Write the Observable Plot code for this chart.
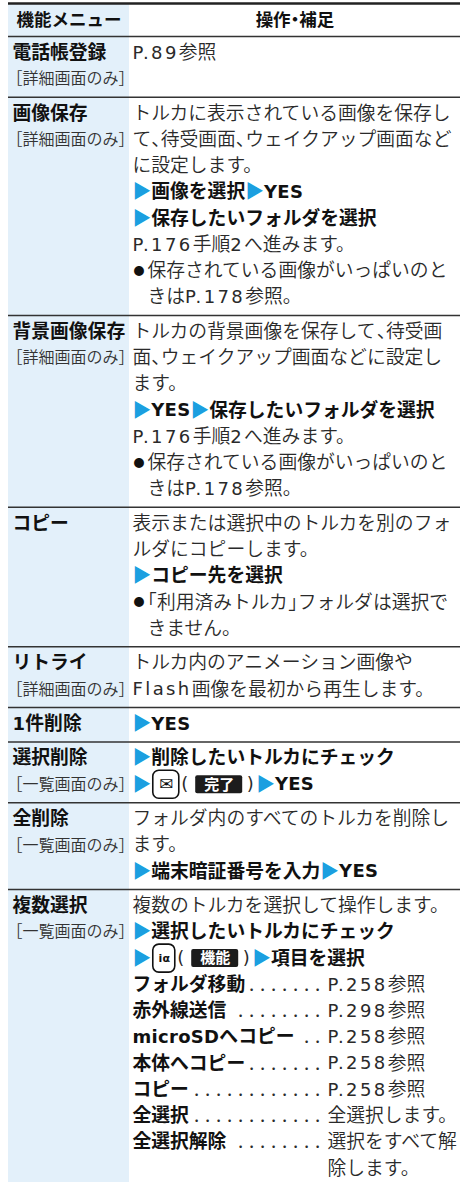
<!DOCTYPE html>
<html><head><meta charset="utf-8">
<script src="https://cdn.jsdelivr.net/npm/d3@7"></script>
<script src="https://cdn.jsdelivr.net/npm/@observablehq/plot@0.6"></script>
<style>html,body{margin:0;padding:0;background:#fff;} svg{display:block}</style>
</head><body><div id="chart"></div>
<script>
// ---------- data ----------
const headerLabels = ["機能メニュー", "操作・補足"];
const menuNames = ["電話帳登録", "画像保存", "背景画像保存", "コピー", "リトライ", "1件削除", "選択削除", "全削除", "複数選択"];
const menuNotes = ["［詳細画面のみ］", "［詳細画面のみ］", "［詳細画面のみ］", "", "［詳細画面のみ］", "", "［一覧画面のみ］", "［一覧画面のみ］", "［一覧画面のみ］"];
const rowLines = [
  ["P.89参照"],
  ["トルカに表示されている画像を保存し", "て、待受画面、ウェイクアップ画面など", "に設定します。", "▶**画像を選択**▶**YES**", "▶**保存したいフォルダを選択**", "P.176手順2へ進みます。", "●保存されている画像がいっぱいのと", "^きはP.178参照。"],
  ["トルカの背景画像を保存して、待受画", "面、ウェイクアップ画面などに設定し", "ます。", "▶**YES**▶**保存したいフォルダを選択**", "P.176手順2へ進みます。", "●保存されている画像がいっぱいのと", "^きはP.178参照。"],
  ["表示または選択中のトルカを別のフォ", "ルダにコピーします。", "▶**コピー先を選択**", "●「利用済みトルカ」フォルダは選択で", "^きません。"],
  ["トルカ内のアニメーション画像や", "Flash画像を最初から再生します。"],
  ["▶**YES**"],
  ["▶**削除したいトルカにチェック**", "▶{mail}(#完了#)▶**YES**"],
  ["フォルダ内のすべてのトルカを削除し", "ます。", "▶**端末暗証番号を入力**▶**YES**"],
  ["複数のトルカを選択して操作します。", "▶**選択したいトルカにチェック**", "▶{ia}(#機能#)▶**項目を選択**"]
];
const subItems = ["フォルダ移動", "赤外線送信", "microSDへコピー", "本体へコピー", "コピー", "全選択", "全選択解除"];
const subRefs = ["P.258参照", "P.298参照", "P.258参照", "P.258参照", "P.258参照", "全選択します。", "選択をすべて解"];
const subRefTail = "除します。";

// ---------- layout settings ----------
const W = 460, H = 1182;
const X0 = 8, XS = 129, X1 = 460;
const TOP = 3, HEAD_B = 36, HEAD_Y = 20;
const LH = 26.25, PAD = 8.2, FIRST = 16.5;
const FS = 18.8, LAT_FS = 18, NOTE_FS = 16, HEAD_FS = 17.5, BOX_FS = 15, BULLET_FS = 11, BULLET_W = 15;
const LS_REG = 2.4, LS_BOLD = 0.3;
const TX_L = 12, TX_NOTE = 6, TX_R = 132, REF_X = 327, DOT_END = 317, DOT_STEP = 11;
const FONT = '"Noto Sans CJK JP","Noto Sans CJK SC",sans-serif';
const FONT_H = '"Noto Sans CJK JP",sans-serif'; // same face, rendered with half-width punctuation
const LATIN = '"DejaVu Sans",Verdana,sans-serif';
const BLUE_BG = "#E3F0FA", TRI = "#1B9FE0", INK = "#111", REG = "#2a2a2a";
const REG_W = 350;

const ctx = document.createElement("canvas").getContext("2d");
const tw = (t, size, weight = 400, fam = FONT) => { ctx.font = `${weight} ${size}px ${fam}`; return ctx.measureText(t).width; };

// all right-column lines per row
const allLines = rowLines.map(l => l.slice());
subItems.forEach((it, k) => allLines[8].push({item: it, ref: subRefs[k]}));
allLines[8].push({item: "", ref: subRefTail, noDots: true});

const texts = [], keys = [], boxes = [], dots = [];

// place a run of text (mixed CJK / Latin / half-width punctuation)
function pushRun(str, x, y, weight) {
  const bold = weight === 700;
  const runs = str.match(/[\x20-\x7E]+|[、「」]|[^\x20-\x7E、「」]+/g) || [];
  for (const r of runs) {
    if (/^[\x20-\x7E]+$/.test(r)) {
      texts.push({t: r, x, y, s: bold ? "boldL" : "regL"});
      x += tw(r, LAT_FS, bold ? 700 : 400, LATIN) + r.length * (bold ? LS_BOLD : LS_REG);
    } else if (/^[、「」]$/.test(r)) {
      texts.push({t: r, x, y, s: bold ? "boldP" : "regP"}); x += FS * 0.5;
    } else {
      texts.push({t: r, x, y, s: bold ? "bold" : "reg"}); x += tw(r, FS, bold ? 700 : REG_W);
    }
  }
  return x;
}

function layoutLine(str, x, y) {
  const parts = str.split(/(\*\*[^*]+\*\*|▶|●|\^|\{mail\}|\{ia\}|#[^#]+#)/).filter(s => s !== "");
  for (const p of parts) {
    if (p === "▶") { texts.push({t: "▶", x, y, s: "tri"}); x += tw("▶", FS); }
    else if (p === "●") { texts.push({t: "●", x: x + 1, y, s: "bullet"}); x += BULLET_W; }
    else if (p === "^") { x += BULLET_W; }
    else if (p.startsWith("**")) { x = pushRun(p.slice(2, -2), x, y, 700); }
    else if (p === "{mail}" || p === "{ia}") {
      const w = p === "{mail}" ? 26 : 22; x += 2;
      keys.push({x1: x, x2: x + w, y1: y - 14, y2: y + 14, g: p === "{mail}" ? "✉" : "iα", cx: x + w / 2, y, mail: p === "{mail}"});
      x += w + 2;
    }
    else if (p.startsWith("#")) {
      const t = p.slice(1, -1); x += 5;
      const w = tw(t, BOX_FS, 700) + 17;
      boxes.push({x1: x, x2: x + w, y1: y - 9, y2: y + 9, t, cx: x + w / 2, y});
      x += w + 4;
    }
    else { x = pushRun(p, x, y, 400); }
  }
  return x;
}

const rowTops = [];
let yy = HEAD_B;
menuNames.forEach((name, i) => {
  rowTops.push(yy);
  const c = yy + FIRST;
  pushRun(name, TX_L, c, 700);
  if (menuNotes[i]) texts.push({t: menuNotes[i], x: TX_NOTE, y: c + LH, s: "note"});
  allLines[i].forEach((ln, k) => {
    const y = c + k * LH;
    if (typeof ln === "string") layoutLine(ln, TX_R, y);
    else {
      let end = TX_R;
      if (ln.item) end = pushRun(ln.item, TX_R, y, 700);
      if (!ln.noDots) for (let dx = DOT_END; dx >= end + 5; dx -= DOT_STEP) dots.push({x: dx, y});
      pushRun(ln.ref, REF_X, y, 400);
    }
  });
  const n = Math.max(allLines[i].length, menuNotes[i] ? 2 : 1);
  yy += n * LH + PAD;
});

const headers = [
  {t: headerLabels[0], x: (X0 + XS) / 2, y: HEAD_Y},
  {t: headerLabels[1], x: (XS + X1) / 2, y: HEAD_Y}
];
const sepLines = rowTops.map(y => ({y}));

const by = s => texts.filter(d => d.s === s);
const txt = (data, o) => Plot.text(data, {x: "x", y: "y", text: "t", textAnchor: "start", lineAnchor: "middle", fontFamily: FONT, ...o});

const chart = Plot.plot({
  width: W, height: H, margin: 0,
  x: {domain: [0, W], range: [0, W], axis: null},
  y: {domain: [0, H], range: [0, H], axis: null},
  style: {background: "#fff"},
  marks: [
    Plot.rect([{x1: X0, x2: XS, y1: TOP, y2: H}], {x1: "x1", x2: "x2", y1: "y1", y2: "y2", fill: BLUE_BG}),
    Plot.ruleY(sepLines, {y: "y", x1: X0, x2: X1, stroke: "#333", strokeWidth: 1.5}),
    Plot.ruleY([{y: TOP}], {y: "y", x1: X0, x2: X1, stroke: "#222", strokeWidth: 2.5}),
    Plot.text(headers, {x: "x", y: "y", text: "t", textAnchor: "middle", lineAnchor: "middle", fontFamily: FONT_H, fontSize: HEAD_FS, fontWeight: 700, fill: INK}),
    txt(by("bold"), {fontSize: FS, fontWeight: 700, fill: INK}),
    txt(by("reg"), {fontSize: FS, fontWeight: REG_W, fill: REG}),
    txt(by("boldP"), {fontSize: FS, fontWeight: 700, fill: INK, fontFamily: FONT_H}),
    txt(by("regP"), {fontSize: FS, fontWeight: REG_W, fill: REG, fontFamily: FONT_H}),
    txt(by("boldL"), {fontSize: LAT_FS, fontWeight: 700, fill: INK, fontFamily: LATIN}),
    txt(by("regL"), {fontSize: LAT_FS, fontWeight: 400, fill: REG, fontFamily: LATIN}),
    txt(by("note"), {fontSize: NOTE_FS, fontWeight: REG_W, fill: "#333"}),
    txt(by("tri"), {fontSize: FS, fill: TRI}),
    txt(by("bullet"), {fontSize: BULLET_FS, fill: INK}),
    Plot.text(dots, {x: "x", y: "y", text: () => ".", textAnchor: "middle", lineAnchor: "middle", fontFamily: FONT, fontSize: FS, fill: REG}),
    Plot.rect(keys, {x1: "x1", x2: "x2", y1: "y1", y2: "y2", rx: 6, fill: "#fff", stroke: INK, strokeWidth: 1.6}),
    Plot.text(keys.filter(d => d.mail), {x: "cx", y: "y", text: "g", textAnchor: "middle", lineAnchor: "middle", fontFamily: "DejaVu Sans", fontSize: 17, fill: INK}),
    Plot.text(keys.filter(d => !d.mail), {x: "cx", y: "y", text: "g", textAnchor: "middle", lineAnchor: "middle", fontFamily: "DejaVu Sans", fontSize: 11, fontWeight: 700, fill: INK}),
    Plot.rect(boxes, {x1: "x1", x2: "x2", y1: "y1", y2: "y2", rx: 2, fill: "#1c1c1c"}),
    Plot.text(boxes, {x: "cx", y: "y", text: "t", textAnchor: "middle", lineAnchor: "middle", fontFamily: FONT, fontSize: BOX_FS, fontWeight: 700, fill: "#fff"})
  ]
});
// letter spacing for the Latin runs, half-width punctuation for the CJK punctuation runs
chart.querySelectorAll("g[font-family]").forEach(g => {
  const f = g.getAttribute("font-family");
  if (f === LATIN) g.setAttribute("letter-spacing", g.getAttribute("font-weight") === "700" ? LS_BOLD : LS_REG);
  if (f === FONT_H) g.style.fontFeatureSettings = '"halt" 1';
});
document.getElementById("chart").appendChild(chart);
</script>
</body></html>
